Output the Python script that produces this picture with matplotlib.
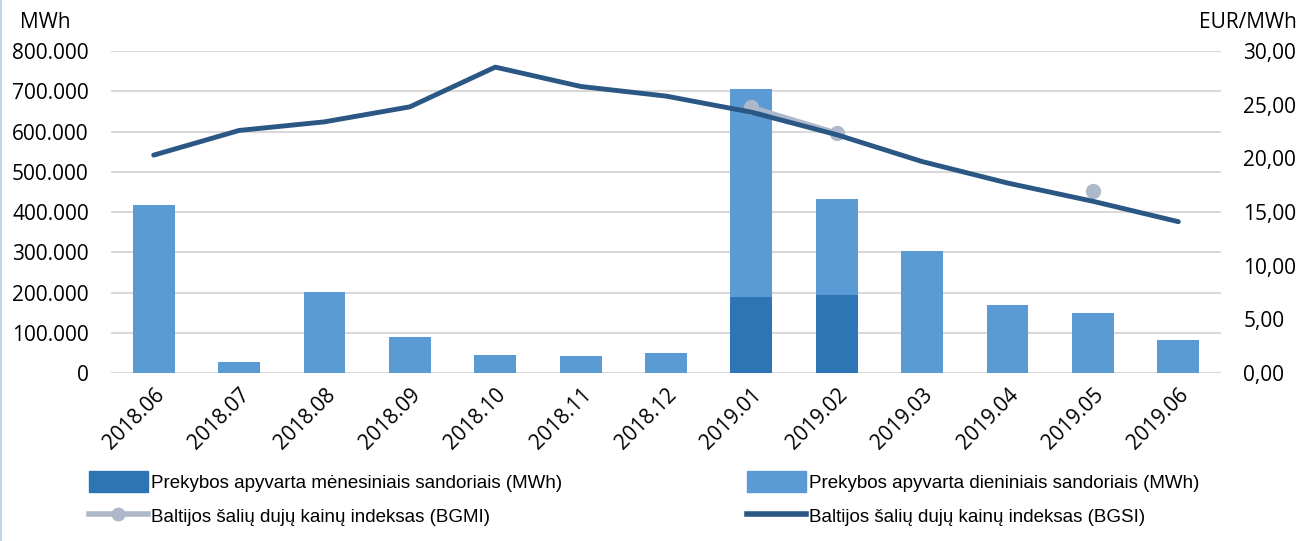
import matplotlib.pyplot as plt
import numpy as np
from matplotlib.ticker import FuncFormatter
from matplotlib.lines import Line2D
from matplotlib.patches import Patch

months = ['2018.06', '2018.07', '2018.08', '2018.09', '2018.10', '2018.11', '2018.12',
          '2019.01', '2019.02', '2019.03', '2019.04', '2019.05', '2019.06']
monthly = [0, 0, 0, 0, 0, 0, 0, 189000, 194000, 0, 0, 0, 0]
daily = [417000, 27000, 201000, 89000, 45000, 42000, 50000,
         516000, 238000, 303000, 169000, 149000, 82000]
bgsi = [20.3, 22.6, 23.4, 24.8, 28.5, 26.7, 25.8, 24.3, 22.2, 19.7, 17.7, 16.0, 14.1]
bgmi = [np.nan] * 7 + [24.8, 22.4, np.nan, np.nan, 17.0, np.nan]

c_month = '#2E75B6'
c_day = '#5B9BD5'
c_bgsi = '#2A5783'
c_bgmi = '#ADB9CA'

plt.rcParams['font.family'] = ['Open Sans', 'DejaVu Sans']
fig = plt.figure(figsize=(13.03, 5.41), dpi=100)
ax = fig.add_axes([0.0852, 0.3105, 0.8519, 0.5952])
ax2 = ax.twinx()

x = np.arange(len(months))
ax.bar(x, monthly, width=0.49, color=c_month, zorder=2)
ax.bar(x, daily, width=0.49, bottom=monthly, color=c_day, zorder=2)

ax2.plot(x, bgmi, color=c_bgmi, lw=3, marker='o', ms=10, zorder=3)
ax2.plot(x, bgsi, color=c_bgsi, lw=3.5, zorder=4, solid_capstyle='round')

ax.set_xlim(-0.5, len(months) - 0.5)
ax.set_ylim(0, 800000)
ax.set_yticks(np.arange(0, 800001, 100000))
ax2.set_ylim(0, 30)
ax2.set_yticks(np.arange(0, 31, 5))
ax.yaxis.set_major_formatter(FuncFormatter(lambda v, p: f'{int(v):,}'.replace(',', '.')))
ax2.yaxis.set_major_formatter(FuncFormatter(lambda v, p: f'{v:.2f}'.replace('.', ',')))

ax.grid(axis='y', color='#D9D9D9', lw=1.5, zorder=0)
ax.set_axisbelow(True)
for a in (ax, ax2):
    for s in a.spines.values():
        s.set_visible(False)
    a.tick_params(length=0, labelsize=15)
ax.tick_params(axis='y', pad=16)
ax2.tick_params(axis='y', pad=16)
ax.set_xticks(x)
ax.set_xticklabels(months, rotation=45, ha='right', rotation_mode='anchor')
ax.tick_params(axis='x', pad=8)

fig.text(20 / 1303, 1 - 22 / 541, 'MWh', fontsize=15, va='center', ha='left')
fig.text(1297 / 1303, 1 - 22 / 541, 'EUR/MWh', fontsize=15, va='center', ha='right')

leg_font = {'family': ['Liberation Sans Narrow', 'Liberation Sans', 'DejaVu Sans'], 'size': 13.5}
h1 = [Patch(color=c_month), Line2D([], [], color=c_bgmi, lw=4, marker='o', ms=9)]
l1 = ['Prekybos apyvarta mėnesiniais sandoriais (MWh)', 'Baltijos šalių dujų kainų indeksas (BGMI)']
h2 = [Patch(color=c_day), Line2D([], [], color=c_bgsi, lw=4)]
l2 = ['Prekybos apyvarta dieniniais sandoriais (MWh)', 'Baltijos šalių dujų kainų indeksas (BGSI)']
for hs, ls, xpos in [(h1, l1, 80), (h2, l2, 738)]:
    fig.legend(hs, ls, loc='upper left', bbox_to_anchor=(xpos / 1303, 1 - 462 / 541),
               frameon=False, prop=leg_font, handlelength=3.1, handleheight=1.3,
               handletextpad=0.2, labelspacing=0.75, borderpad=0)

fig.add_artist(Line2D([0.001, 0.001], [0, 1], color='#BDD7EE', lw=1.5))
fig.savefig('out.png', dpi=100)
